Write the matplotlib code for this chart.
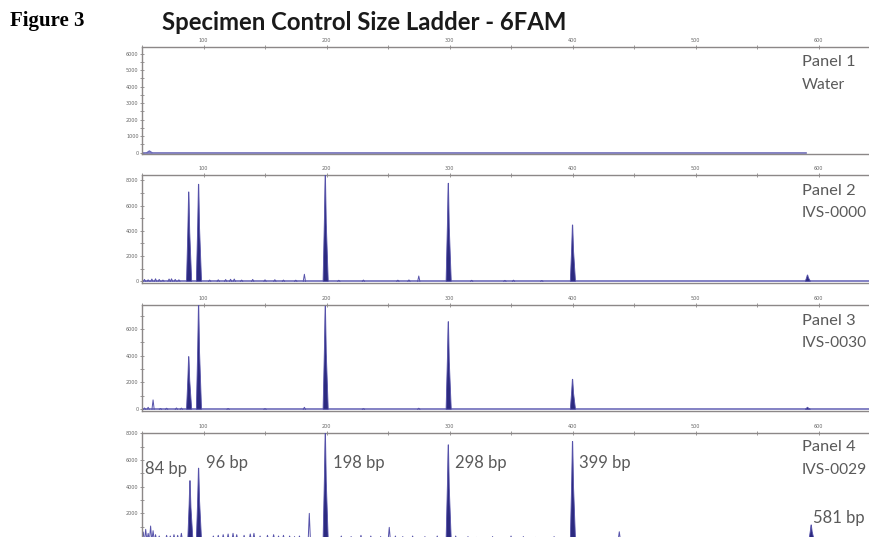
import matplotlib
matplotlib.use("Agg")
import matplotlib.pyplot as plt
from matplotlib.ticker import MultipleLocator

W, H = 869, 537

# ---------------- data ----------------
size_ticks = [100, 200, 300, 400, 500, 600]

# Panel 1 (Water): essentially flat trace
p1_peak_bp = [56]
p1_peak_h = [100]
p1_trace_end = 590

# Panel 2 (IVS-0000)
p2_peak_bp = [88, 96, 199, 299, 400, 591]
p2_peak_h = [7090, 7700, 8440, 7780, 4470, 500]
p2_noise_bp = [52, 55, 58, 61, 64, 67, 72, 74, 77, 80, 105, 112, 118, 122, 125, 131,
               140, 150, 158, 165, 175, 182, 210, 230, 258, 267, 275, 318, 345, 352, 375]
p2_noise_h = [150, 120, 180, 200, 150, 100, 180, 200, 150, 120, 100, 120, 140, 160, 180, 100,
              150, 120, 130, 100, 90, 560, 80, 100, 90, 110, 420, 80, 70, 90, 60]

# Panel 3 (IVS-0030)
p3_peak_bp = [88, 96, 199, 299, 400, 591]
p3_peak_h = [3930, 7780, 7700, 6540, 2240, 150]
p3_noise_bp = [52, 55, 59, 65, 70, 78, 82, 120, 150, 182, 230, 275]
p3_noise_h = [100, 150, 700, 60, 80, 100, 90, 60, 50, 150, 50, 80]

# Panel 4 (IVS-0029)
p4_peak_bp = [89, 96, 199, 299, 400, 594]
p4_peak_h = [4450, 5390, 8020, 7140, 7390, 1130]
p4_noise_bp = [51, 53, 55, 57, 59, 61, 64, 70, 73, 76, 79, 82, 108, 112, 116, 120, 124,
               127, 133, 138, 141, 146, 152, 157, 161, 165, 170, 174, 178, 186, 212, 220,
               228, 236, 244, 251, 256, 262, 270, 280, 290, 305, 315, 322, 335, 350, 360,
               370, 385, 438, 450, 500, 560, 600, 620]
p4_noise_h = [600, 800, 500, 1050, 700, 400, 300, 350, 300, 400, 350, 500, 300, 350, 400, 450,
              500, 400, 350, 450, 500, 300, 350, 400, 300, 350, 300, 250, 300, 2000, 300, 250,
              350, 300, 250, 950, 300, 250, 300, 250, 300, 300, 250, 200, 250, 300, 250,
              200, 250, 620, 150, 100, 100, 150, 100]

panel_titles = [("Panel 1", "Water"), ("Panel 2", "IVS-0000"),
                ("Panel 3", "IVS-0030"), ("Panel 4", "IVS-0029")]
peak_labels = ["84 bp", "96 bp", "198 bp", "298 bp", "399 bp", "581 bp"]

# ---------------- styling ----------------
FILL = "#2c2a80"
EDGE = "#5652aa"
BASE = "#6e6cba"
GRID = "#8c8888"
TXT = "#5a5a5a"

def fx(px):
    return px / W

def fy(py):
    return 1 - py / H

fig = plt.figure(figsize=(W / 100, H / 100), dpi=100)
fig.patch.set_facecolor("white")

# axes layout in pixels: (top, bottom, ylim, major, minor, lowest labelled tick)
layout = [
    (47.0, 154.3, (-100, 6400), 1000, 500, 0),
    (174.8, 283.2, (-150, 8450), 2000, 1000, 0),
    (304.8, 411.3, (-150, 7800), 2000, 1000, 0),
    (432.7, 542.0, (-150, 8050), 2000, 1000, 2000),
]
left_px = 142
XLIM = (50, 641)

axes = []
for top, bot, ylim, maj, mnr, lowest in layout:
    ax = fig.add_axes([fx(left_px), fy(bot), 1 - fx(left_px), (bot - top) / H])
    ax.set_xlim(*XLIM)
    ax.set_ylim(*ylim)
    ax.patch.set_alpha(0)
    ax.spines["right"].set_visible(False)
    for s in ["top", "left", "bottom"]:
        ax.spines[s].set_color(GRID)
        ax.spines[s].set_linewidth(1.0)
    ax.xaxis.set_ticks_position("top")
    ax.xaxis.set_label_position("top")
    ax.set_xticks(size_ticks)
    ax.set_xticklabels([str(t) for t in size_ticks])
    ax.xaxis.set_minor_locator(MultipleLocator(50))
    ax.yaxis.set_minor_locator(MultipleLocator(mnr))
    yt = list(range(lowest, int(ylim[1]) + 1, maj))
    ax.set_yticks(yt)
    ax.set_yticklabels([str(t) for t in yt])
    ax.tick_params(axis="x", which="both", direction="inout", length=3, width=0.6,
                   colors=GRID, labelsize=3.5, labelcolor="#666666", pad=1.5)
    ax.tick_params(axis="y", which="both", direction="inout", length=3, width=0.6,
                   colors=GRID, labelsize=3.5, labelcolor="#666666", pad=1)
    axes.append(ax)


def draw_peak(ax, bp, h, lw=0.6):
    xs = [bp - 1.8, bp - 0.7, bp - 0.15, bp + 0.15, bp + 0.8, bp + 2.4]
    ys = [0, 0.6 * h, h, h, 0.55 * h, 0]
    ax.fill(xs, ys, facecolor=FILL, edgecolor=EDGE, linewidth=lw, zorder=3)


def draw_blip(ax, bp, h):
    ax.plot([bp - 0.9, bp, bp + 0.9], [0, h, 0], color=EDGE, linewidth=0.7, zorder=2)


# Panel 1
ax = axes[0]
ax.plot([XLIM[0], p1_trace_end], [0, 0], color=BASE, linewidth=1.2, zorder=2)
for bp, h in zip(p1_peak_bp, p1_peak_h):
    ax.plot([bp - 2, bp, bp + 2], [0, h, 0], color=BASE, linewidth=1.0, zorder=2)

# Panels 2-4
for ax, pk_bp, pk_h, nz_bp, nz_h in [
    (axes[1], p2_peak_bp, p2_peak_h, p2_noise_bp, p2_noise_h),
    (axes[2], p3_peak_bp, p3_peak_h, p3_noise_bp, p3_noise_h),
    (axes[3], p4_peak_bp, p4_peak_h, p4_noise_bp, p4_noise_h),
]:
    ax.plot(list(XLIM), [0, 0], color=BASE, linewidth=1.2, zorder=2)
    for bp, h in zip(nz_bp, nz_h):
        draw_blip(ax, bp, h)
    for bp, h in zip(pk_bp, pk_h):
        draw_peak(ax, bp, h)

# ---------------- text ----------------
fig.text(fx(10), fy(21), "Figure 3", family="Liberation Serif", weight="bold",
         fontsize=15, ha="left", va="center", color="black")
fig.text(fx(162), fy(23), "Specimen Control Size Ladder - 6FAM", family="Lato",
         weight="bold", fontsize=17.2, ha="left", va="center", color="#1a1a1a")

base_font = dict(family="Lato", weight="normal", color=TXT, ha="left", va="center")
title_y = [(62, 85), (191, 213), (321, 343), (447, 470)]
for (l1, l2), (y1, y2) in zip(panel_titles, title_y):
    fig.text(fx(802), fy(y1), l1, fontsize=11.8, **base_font)
    fig.text(fx(802), fy(y2), l2, fontsize=11.2, **base_font)

peak_label_pos = [(145, 469), (206, 463), (333, 463), (455, 463), (579, 463), (813, 518)]
for txt, (px, py) in zip(peak_labels, peak_label_pos):
    fig.text(fx(px), fy(py), txt, fontsize=12, **base_font)

fig.savefig("out.png", dpi=100)
